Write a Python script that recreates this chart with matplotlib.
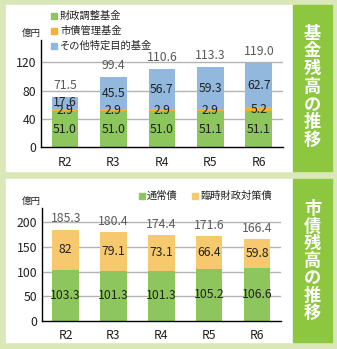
import numpy as np
import matplotlib.pyplot as plt
from matplotlib.patches import Rectangle

plt.rcParams['font.family'] = ['Noto Sans CJK JP', 'DejaVu Sans']

years = ['R2', 'R3', 'R4', 'R5', 'R6']

# 基金残高
fund_names = ['財政調整基金', '市債管理基金', 'その他特定目的基金']
zaisei = [51.0, 51.0, 51.0, 51.1, 51.1]
shisai_kanri = [2.9, 2.9, 2.9, 2.9, 5.2]
sonota = [17.6, 45.5, 56.7, 59.3, 62.7]
fund_total = [71.5, 99.4, 110.6, 113.3, 119.0]

# 市債残高
debt_names = ['通常債', '臨時財政対策債']
tsujo = [103.3, 101.3, 101.3, 105.2, 106.6]
rinji = [82, 79.1, 73.1, 66.4, 59.8]
debt_total = [185.3, 180.4, 174.4, 171.6, 166.4]
rinji_txt = ['82', '79.1', '73.1', '66.4', '59.8']

GREEN = '#8cc65c'
ORANGE = '#f6b133'
BLUE = '#92b9dd'
LORANGE = '#f6c96f'
BG = '#dae8b7'
SIDE = '#8dc63f'

W, H = 337, 349
fig = plt.figure(figsize=(W / 100, H / 100), dpi=100, facecolor=BG)


def px_rect(x0, y0, x1, y1, color, z=-10):
    fig.patches.append(Rectangle((x0 / W, 1 - y1 / H), (x1 - x0) / W, (y1 - y0) / H,
                                 transform=fig.transFigure, color=color, zorder=z))


def fx(x):
    return x / W


def fy(y):
    return 1 - y / H


# panels
px_rect(6, 5, 293, 170.5, 'white')
px_rect(293, 5, 332, 170.5, SIDE)
px_rect(6, 179, 293, 342, 'white')
px_rect(293, 179, 332, 342, SIDE)

# side titles
for i, ch in enumerate('基金残高の推移'):
    fig.text(fx(312.5), fy(33.5 + i * 17.75), ch, color='white', fontsize=12.4,
             fontweight='bold', ha='center', va='center')
for i, ch in enumerate('市債残高の推移'):
    fig.text(fx(312.5), fy(209.5 + i * 17.2), ch, color='white', fontsize=12.4,
             fontweight='bold', ha='center', va='center')


def style_axes(ax, ylim, ticks):
    ax.set_facecolor('none')
    ax.set_xlim(-0.5, 4.5)
    ax.set_ylim(*ylim)
    ax.set_yticks(ticks)
    ax.set_xticks(range(len(years)))
    ax.set_xticklabels(years)
    for s in ['top', 'right']:
        ax.spines[s].set_visible(False)
    ax.spines['left'].set_linewidth(1.0)
    ax.spines['bottom'].set_linewidth(1.0)
    ax.tick_params(length=0, labelsize=8.8, colors='#222222', pad=3)
    ax.tick_params(axis='x', pad=6)
    for t in ticks[1:]:
        ax.axhline(t, color='#b3b3b3', lw=1.0, zorder=0)


x = np.arange(len(years))
bw = 0.55

# --- top chart ---
ax1 = fig.add_axes([fx(40.7), fy(147.3), fx(283) - fx(40.7), (147.3 - 40) / H])
style_axes(ax1, (0, 151.5), [0, 40, 80, 120])
ax1.bar(x, zaisei, bw, color=GREEN, zorder=2)
ax1.bar(x, shisai_kanri, bw, bottom=zaisei, color=ORANGE, zorder=2)
bot3 = np.array(zaisei) + np.array(shisai_kanri)
ax1.bar(x, sonota, bw, bottom=bot3, color=BLUE, zorder=2)
for i in range(len(years)):
    ax1.text(x[i], zaisei[i] / 2, f'{zaisei[i]:.1f}', ha='center', va='center',
             fontsize=8.8, color='#222222', zorder=3)
    ax1.text(x[i], zaisei[i] + shisai_kanri[i] / 2, f'{shisai_kanri[i]:.1f}', ha='center',
             va='center', fontsize=8.8, color='#222222', zorder=3)
    ax1.text(x[i], bot3[i] + sonota[i] / 2, f'{sonota[i]:.1f}', ha='center', va='center',
             fontsize=8.8, color='#222222', zorder=3)
    ax1.annotate(f'{fund_total[i]:.1f}', (x[i], fund_total[i]), xytext=(0, 8.3),
                 textcoords='offset points', ha='center', va='center', fontsize=8.8,
                 color='#5a5a5a')

fig.text(fx(31), fy(33.5), '億円', ha='center', va='center', fontsize=6.8, color='#222222')

for j, (name, col) in enumerate(zip(fund_names, [GREEN, ORANGE, BLUE])):
    yc = 15.5 + j * 15.2
    px_rect(51, yc - 3, 57, yc + 3, col, z=1)
    fig.text(fx(60), fy(yc), name, ha='left', va='center', fontsize=7.4, color='#222222')

# --- bottom chart ---
ax2 = fig.add_axes([fx(41.7), fy(320.7), fx(281) - fx(41.7), (320.7 - 208.3) / H])
style_axes(ax2, (0, 228.5), [0, 50, 100, 150, 200])
ax2.bar(x, tsujo, bw, color=GREEN, zorder=2)
ax2.bar(x, rinji, bw, bottom=tsujo, color=LORANGE, zorder=2)
for i in range(len(years)):
    ax2.text(x[i], tsujo[i] / 2, f'{tsujo[i]:.1f}', ha='center', va='center',
             fontsize=8.8, color='#222222', zorder=3)
    ax2.text(x[i], tsujo[i] + rinji[i] / 2, rinji_txt[i], ha='center', va='center',
             fontsize=8.8, color='#222222', zorder=3)
    ax2.annotate(f'{debt_total[i]:.1f}', (x[i], debt_total[i]), xytext=(0, 7.6),
                 textcoords='offset points', ha='center', va='center', fontsize=8.8,
                 color='#5a5a5a')

fig.text(fx(31), fy(201), '億円', ha='center', va='center', fontsize=6.8, color='#222222')

for name, col, sx in zip(debt_names, [GREEN, LORANGE], [139, 192]):
    yc = 195.5
    px_rect(sx, yc - 3, sx + 6, yc + 3, col, z=1)
    fig.text(fx(sx + 8), fy(yc), name, ha='left', va='center', fontsize=7.4, color='#222222')

fig.savefig('out.png', dpi=100, facecolor=BG)
